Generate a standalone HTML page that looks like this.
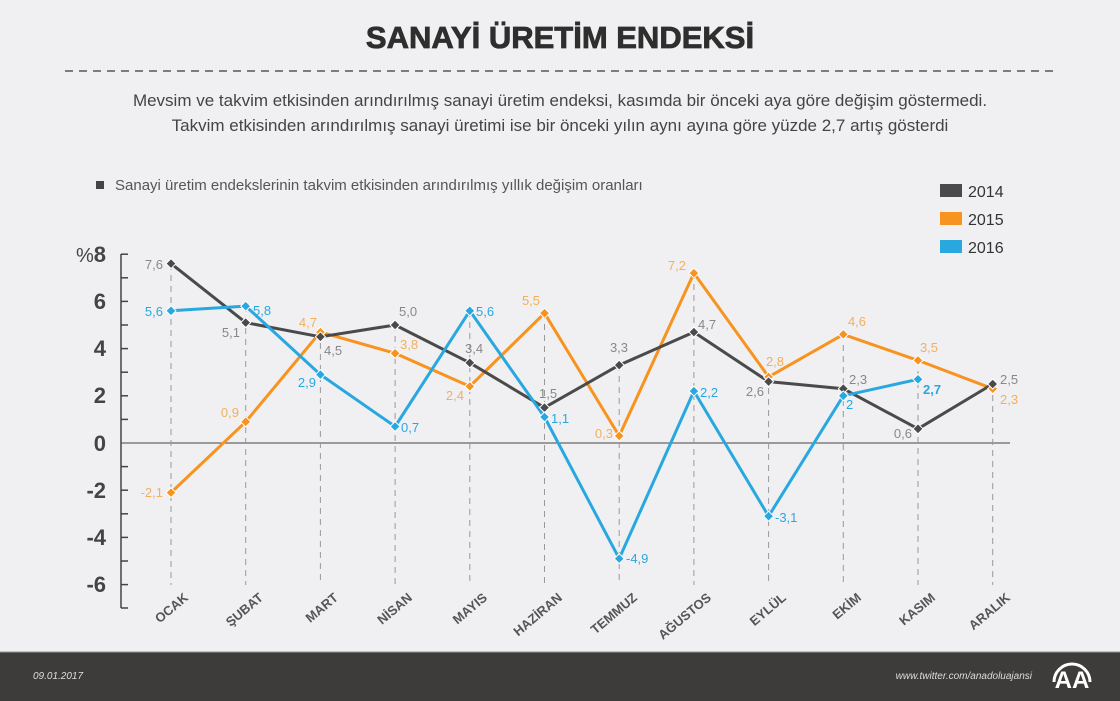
<!DOCTYPE html>
<html><head><meta charset="utf-8"><style>
body{margin:0;width:1120px;height:701px;background:#f0f0f2;overflow:hidden;font-family:"Liberation Sans",sans-serif}
svg{display:block}
</style></head><body>
<svg width="1120" height="701" xmlns="http://www.w3.org/2000/svg" font-family="Liberation Sans, sans-serif">
<rect width="1120" height="701" fill="#f0f0f2"/>
<text x="560" y="48" text-anchor="middle" font-size="31" font-weight="bold" fill="#2e2e2e" stroke="#2e2e2e" stroke-width="0.8">SANAYİ ÜRETİM ENDEKSİ</text>
<line x1="65" y1="71" x2="1055" y2="71" stroke="#555" stroke-width="1.5" stroke-dasharray="8,6"/>
<text x="560" y="106" text-anchor="middle" font-size="17" fill="#444">Mevsim ve takvim etkisinden arındırılmış sanayi üretim endeksi, kasımda bir önceki aya göre değişim göstermedi.</text>
<text x="560" y="131" text-anchor="middle" font-size="17" fill="#444">Takvim etkisinden arındırılmış sanayi üretimi ise bir önceki yılın aynı ayına göre yüzde 2,7 artış gösterdi</text>
<rect x="96" y="181" width="8" height="8" fill="#444"/>
<text x="115" y="190" font-size="15" fill="#555">Sanayi üretim endekslerinin takvim etkisinden arındırılmış yıllık değişim oranları</text>
<rect x="940" y="184" width="22" height="13" fill="#4a4a4a"/><text x="968" y="197" font-size="16" fill="#333">2014</text>
<rect x="940" y="212" width="22" height="13" fill="#f7931e"/><text x="968" y="225" font-size="16" fill="#333">2015</text>
<rect x="940" y="240" width="22" height="13" fill="#29a8e0"/><text x="968" y="253" font-size="16" fill="#333">2016</text>
<g stroke="#444" stroke-width="1.5">
<line x1="121" y1="254" x2="121" y2="608"/>
<line x1="121" y1="443" x2="1010" y2="443" stroke-width="1"/>
<line x1="121" y1="254.2" x2="128" y2="254.2"/><line x1="121" y1="277.8" x2="128" y2="277.8"/><line x1="121" y1="301.4" x2="128" y2="301.4"/><line x1="121" y1="325" x2="128" y2="325"/><line x1="121" y1="348.6" x2="128" y2="348.6"/><line x1="121" y1="372.2" x2="128" y2="372.2"/><line x1="121" y1="395.8" x2="128" y2="395.8"/><line x1="121" y1="419.4" x2="128" y2="419.4"/><line x1="121" y1="466.6" x2="128" y2="466.6"/><line x1="121" y1="490.2" x2="128" y2="490.2"/><line x1="121" y1="513.8" x2="128" y2="513.8"/><line x1="121" y1="537.4" x2="128" y2="537.4"/><line x1="121" y1="561" x2="128" y2="561"/><line x1="121" y1="584.6" x2="128" y2="584.6"/><line x1="121" y1="608" x2="128" y2="608"/>
</g>
<g font-size="22" font-weight="bold" fill="#444" text-anchor="end">
<text x="106" y="262"><tspan font-weight="normal" font-size="20">%</tspan>8</text>
<text x="106" y="309">6</text><text x="106" y="356">4</text><text x="106" y="403">2</text><text x="106" y="451">0</text>
<text x="106" y="498">-2</text><text x="106" y="545">-4</text><text x="106" y="592">-6</text>
</g>
<g stroke="#999" stroke-width="1" stroke-dasharray="6,5">
<line x1="171" y1="264" x2="171" y2="585"/><line x1="245.7" y1="306" x2="245.7" y2="585"/><line x1="320.4" y1="332" x2="320.4" y2="585"/><line x1="395.1" y1="325" x2="395.1" y2="585"/><line x1="469.8" y1="311" x2="469.8" y2="585"/><line x1="544.5" y1="313" x2="544.5" y2="585"/><line x1="619.2" y1="365" x2="619.2" y2="585"/><line x1="693.9" y1="273" x2="693.9" y2="585"/><line x1="768.6" y1="377" x2="768.6" y2="585"/><line x1="843.3" y1="334" x2="843.3" y2="585"/><line x1="918" y1="360" x2="918" y2="585"/><line x1="992.7" y1="384" x2="992.7" y2="585"/>
</g>
<g font-size="13" font-weight="bold" fill="#555" text-anchor="end">
<text transform="translate(189,599) rotate(-40)">OCAK</text>
<text transform="translate(264,599) rotate(-40)">ŞUBAT</text>
<text transform="translate(339,599) rotate(-40)">MART</text>
<text transform="translate(413,599) rotate(-40)">NİSAN</text>
<text transform="translate(488,599) rotate(-40)">MAYIS</text>
<text transform="translate(563,599) rotate(-40)">HAZİRAN</text>
<text transform="translate(638,599) rotate(-40)">TEMMUZ</text>
<text transform="translate(712,599) rotate(-40)">AĞUSTOS</text>
<text transform="translate(787,599) rotate(-40)">EYLÜL</text>
<text transform="translate(862,599) rotate(-40)">EKİM</text>
<text transform="translate(936,599) rotate(-40)">KASIM</text>
<text transform="translate(1011,599) rotate(-40)">ARALIK</text>
</g>
<g fill="none" stroke-width="3" stroke-linejoin="round">
<polyline stroke="#f7931e" points="171,492.6 245.7,421.8 320.4,332.1 395.1,353.3 469.8,386.4 544.5,313.2 619.2,435.9 693.9,273.1 768.6,376.9 843.3,334.4 918,360.4 992.7,388.7"/>
<polyline stroke="#4a4a4a" points="171,263.6 245.7,322.6 320.4,336.8 395.1,325 469.8,362.8 544.5,407.6 619.2,365.1 693.9,332.1 768.6,381.6 843.3,388.7 918,428.8 992.7,384"/>
<polyline stroke="#29a8e0" points="171,310.8 245.7,306.1 320.4,374.6 395.1,426.5 469.8,310.8 544.5,417 619.2,558.6 693.9,391.1 768.6,516.2 843.3,395.8 918,379.3"/>
</g>
<defs><path id="d" d="M0,-5 L5,0 L0,5 L-5,0Z"/></defs>
<g fill="#f7931e" stroke="#fff" stroke-width="1">
<use href="#d" x="171" y="492.6"/><use href="#d" x="245.7" y="421.8"/><use href="#d" x="320.4" y="332.1"/><use href="#d" x="395.1" y="353.3"/><use href="#d" x="469.8" y="386.4"/><use href="#d" x="544.5" y="313.2"/><use href="#d" x="619.2" y="435.9"/><use href="#d" x="693.9" y="273.1"/><use href="#d" x="768.6" y="376.9"/><use href="#d" x="843.3" y="334.4"/><use href="#d" x="918" y="360.4"/><use href="#d" x="992.7" y="388.7"/>
</g>
<g fill="#4a4a4a" stroke="#fff" stroke-width="1">
<use href="#d" x="171" y="263.6"/><use href="#d" x="245.7" y="322.6"/><use href="#d" x="320.4" y="336.8"/><use href="#d" x="395.1" y="325"/><use href="#d" x="469.8" y="362.8"/><use href="#d" x="544.5" y="407.6"/><use href="#d" x="619.2" y="365.1"/><use href="#d" x="693.9" y="332.1"/><use href="#d" x="768.6" y="381.6"/><use href="#d" x="843.3" y="388.7"/><use href="#d" x="918" y="428.8"/><use href="#d" x="992.7" y="384"/>
</g>
<g fill="#29a8e0" stroke="#fff" stroke-width="1">
<use href="#d" x="171" y="310.8"/><use href="#d" x="245.7" y="306.1"/><use href="#d" x="320.4" y="374.6"/><use href="#d" x="395.1" y="426.5"/><use href="#d" x="469.8" y="310.8"/><use href="#d" x="544.5" y="417"/><use href="#d" x="619.2" y="558.6"/><use href="#d" x="693.9" y="391.1"/><use href="#d" x="768.6" y="516.2"/><use href="#d" x="843.3" y="395.8"/><use href="#d" x="918" y="379.3"/>
</g>
<g font-size="13" fill="#888">
<text x="163" y="269" text-anchor="end">7,6</text>
<text x="240" y="337" text-anchor="end">5,1</text>
<text x="324" y="355">4,5</text>
<text x="399" y="316">5,0</text>
<text x="465" y="353">3,4</text>
<text x="539" y="398">1,5</text>
<text x="619" y="352" text-anchor="middle">3,3</text>
<text x="698" y="329">4,7</text>
<text x="764" y="396" text-anchor="end">2,6</text>
<text x="849" y="384">2,3</text>
<text x="912" y="438" text-anchor="end">0,6</text>
<text x="1000" y="384">2,5</text>
</g>
<g font-size="13" fill="#f7931e" opacity="0.7">
<text x="163" y="497" text-anchor="end">-2,1</text>
<text x="239" y="417" text-anchor="end">0,9</text>
<text x="317" y="327" text-anchor="end">4,7</text>
<text x="400" y="349">3,8</text>
<text x="464" y="400" text-anchor="end">2,4</text>
<text x="531" y="305" text-anchor="middle">5,5</text>
<text x="613" y="438" text-anchor="end">0,3</text>
<text x="686" y="270" text-anchor="end">7,2</text>
<text x="775" y="366" text-anchor="middle">2,8</text>
<text x="857" y="326" text-anchor="middle">4,6</text>
<text x="929" y="352" text-anchor="middle">3,5</text>
<text x="1000" y="404">2,3</text>
</g>
<g font-size="13" fill="#29a8e0">
<text x="163" y="316" text-anchor="end">5,6</text>
<text x="253" y="315">5,8</text>
<text x="316" y="387" text-anchor="end">2,9</text>
<text x="401" y="432">0,7</text>
<text x="476" y="316">5,6</text>
<text x="551" y="423">1,1</text>
<text x="626" y="563">-4,9</text>
<text x="700" y="397">2,2</text>
<text x="775" y="522">-3,1</text>
<text x="846" y="409">2</text>
<text x="923" y="394" font-weight="bold">2,7</text>
</g>
<rect x="0" y="652" width="1120" height="49" fill="#3d3c3b"/>
<line x1="0" y1="652" x2="1120" y2="652" stroke="#999" stroke-width="1"/>
<text x="33" y="679" font-size="10" font-style="italic" fill="#ddd">09.01.2017</text>
<text x="1032" y="679" font-size="10" font-style="italic" fill="#ddd" text-anchor="end">www.twitter.com/anadoluajansi</text>
<text x="1072" y="688" font-size="24" font-weight="bold" fill="#fff" text-anchor="middle">AA</text>
<path d="M1054,682 A18,18 0 0 1 1090,682" fill="none" stroke="#fff" stroke-width="3"/>
</svg>
</body></html>
